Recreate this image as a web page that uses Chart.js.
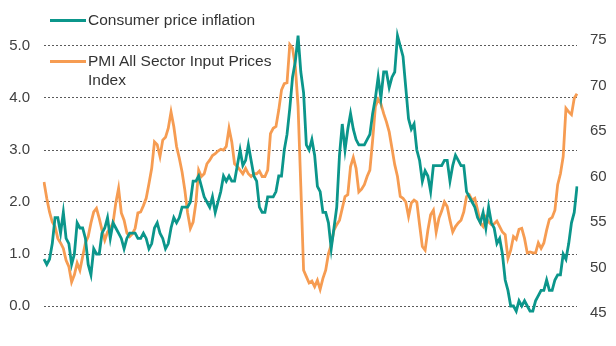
<!DOCTYPE html>
<html><head><meta charset="utf-8">
<script src="https://cdn.jsdelivr.net/npm/chart.js@4.4.1/dist/chart.umd.min.js"></script>
<style>
html,body{margin:0;padding:0;background:#fff;overflow:hidden;width:616px;height:346px;position:relative;}
#wrap{position:absolute;left:0;top:-24px;width:616px;height:374px;}
.legtxt{position:absolute;font-family:"Liberation Sans",Arial,sans-serif;font-size:15.5px;line-height:18.5px;color:#333;white-space:normal;}
.sw{position:absolute;height:3px;width:36px;}
</style></head><body>
<div id="wrap"><canvas id="c" width="616" height="374"></canvas></div>
<div id="legend"></div>
<script>
// ---- Data (monthly, Jan 2001 - Feb 2017) ----
const startYear = 2001;
const monthNames = ['Jan','Feb','Mar','Apr','May','Jun','Jul','Aug','Sep','Oct','Nov','Dec'];
const seriesLabels = ['Consumer price inflation', 'PMI All Sector Input Prices Index'];

const cpi = [
  0.9,0.8,0.9,1.2,1.7,1.7,1.4,1.8,1.3,1.2,0.8,1.0,
  1.6,1.5,1.5,1.3,0.8,0.6,1.1,1.0,1.0,1.4,1.5,1.7,
  1.3,1.6,1.5,1.4,1.3,1.1,1.3,1.4,1.4,1.4,1.3,1.3,
  1.4,1.3,1.1,1.2,1.5,1.6,1.4,1.3,1.1,1.2,1.5,1.7,
  1.6,1.7,1.9,1.9,1.9,2.0,2.4,2.4,2.5,2.3,2.1,2.0,
  1.9,2.1,1.8,2.0,2.2,2.5,2.4,2.5,2.4,2.4,2.7,3.0,
  2.7,2.8,3.1,2.8,2.5,2.4,1.9,1.8,1.8,2.1,2.1,2.1,
  2.2,2.5,2.5,3.0,3.3,3.8,4.4,4.7,5.2,4.5,4.1,3.1,
  3.0,3.2,2.9,2.3,2.2,1.8,1.8,1.6,1.1,1.5,1.9,2.9,
  3.5,3.0,3.4,3.7,3.4,3.2,3.1,3.1,3.1,3.2,3.3,3.7,
  4.0,4.4,4.0,4.5,4.5,4.2,4.4,4.5,5.2,5.0,4.8,4.2,
  3.6,3.4,3.5,3.0,2.8,2.4,2.6,2.5,2.2,2.7,2.7,2.7,
  2.7,2.8,2.8,2.4,2.7,2.9,2.8,2.7,2.7,2.2,2.1,2.0,
  1.9,1.7,1.6,1.8,1.5,1.9,1.6,1.5,1.2,1.3,1.0,0.5,
  0.3,0.0,0.0,-0.1,0.1,0.0,0.1,0.0,-0.1,-0.1,0.1,0.2,
  0.3,0.3,0.5,0.3,0.3,0.5,0.6,0.6,1.0,0.9,1.2,1.6,
  1.8,2.3
];

const pmiInput = [
  59.4,57.6,56.1,55.0,54.5,53.2,52.7,52.1,50.8,50.1,48.4,49.2,
  50.5,49.7,51.2,52.7,53.4,54.9,56.1,56.5,55.4,54.1,53.0,53.9,
  54.3,54.9,57.1,58.7,56.0,55.2,53.8,53.4,53.7,54.3,56.0,56.1,
  56.8,57.6,59.2,60.9,63.8,63.5,62.2,64.0,64.3,65.3,67.1,65.5,
  63.3,62.0,60.5,58.5,56.0,54.3,55.0,57.1,60.7,60.0,60.3,61.4,
  61.8,62.3,62.5,62.8,63.0,62.9,63.3,65.3,63.8,61.4,61.1,60.7,
  60.3,60.9,60.3,60.0,60.3,60.3,60.6,60.0,60.0,60.7,64.7,65.3,
  65.5,67.3,69.5,70.2,70.3,74.5,74.1,72.1,67.7,58.9,49.7,49.0,
  48.3,48.5,47.9,48.6,47.6,48.8,49.7,51.5,52.5,54.1,54.7,55.2,
  56.5,57.8,58.0,61.1,62.1,60.9,58.3,58.6,59.1,60.0,60.7,64.0,
  67.7,68.5,68.0,66.9,66.0,64.9,63.1,61.3,60.0,57.8,57.6,57.2,
  55.6,57.1,57.4,57.2,54.7,52.3,51.9,54.1,55.8,56.3,53.9,55.4,
  56.2,57.2,56.7,55.2,53.9,54.5,54.9,55.2,56.1,57.8,58.0,57.4,
  57.6,56.3,54.9,54.5,55.5,55.0,54.7,54.8,55.1,54.5,53.9,53.6,
  51.0,51.9,53.4,53.1,54.2,54.3,53.2,51.6,51.7,51.6,51.6,52.7,
  52.1,52.7,54.1,55.3,55.5,56.3,59.1,60.3,62.2,67.5,67.1,66.8,
  68.6,69.1
];

const leftTicks = [0, 1, 2, 3, 4, 5, 6];
const rightTicks = [45, 50, 55, 60, 65, 70, 75, 80];

const months = cpi.map((_, i) => monthNames[i % 12] + ' ' + (startYear + Math.floor(i / 12)));

// ---- Layout (page pixels) ----
const OFFSET = 24;          // canvas is shifted up by this much
const areaTop = -12, areaBottom = 316;
const leftZeroY = 306, leftPxPerUnit = 52;
const right45Y = 313, rightPxPerUnit = 9.1;
const leftMin = (leftZeroY - areaBottom) / leftPxPerUnit;
const leftMax = (leftZeroY - areaTop) / leftPxPerUnit;
const rightMin = 45 + (right45Y - areaBottom) / rightPxPerUnit;
const rightMax = 45 + (right45Y - areaTop) / rightPxPerUnit;

const TEAL = '#0b968b';
const ORANGE = '#f69c52';
const tickFont = {family: '"Liberation Sans", Arial, sans-serif', size: 15};

function fixWidth(w) {
  return s => { s.width = w; s.paddingTop = 0; s.paddingBottom = 0; s.paddingLeft = 0; s.paddingRight = 0; };
}

new Chart(document.getElementById('c'), {
  type: 'line',
  data: {
    labels: months,
    datasets: [
      {label: seriesLabels[0], data: cpi, yAxisID: 'yL', borderColor: TEAL, borderWidth: 2.8, pointRadius: 0, tension: 0, fill: false},
      {label: seriesLabels[1], data: pmiInput, yAxisID: 'yR', borderColor: ORANGE, borderWidth: 2.8, pointRadius: 0, tension: 0, fill: false}
    ]
  },
  options: {
    responsive: false,
    animation: false,
    devicePixelRatio: 1,
    layout: {padding: {top: areaTop + OFFSET, bottom: 374 - (areaBottom + OFFSET), left: 0, right: 0}},
    plugins: {legend: {display: false}, tooltip: {enabled: false}},
    scales: {
      x: {type: 'category', display: false, offset: false},
      yL: {
        position: 'left', min: leftMin, max: leftMax,
        afterFit: fixWidth(44),
        afterBuildTicks: s => { s.ticks = leftTicks.map(v => ({value: v})); },
        ticks: {autoSkip: false, padding: 14, color: '#404040', font: tickFont, callback: v => Number(v).toFixed(1)},
        grid: {drawTicks: false, color: '#5a5a5a', lineWidth: 1, borderDash: [2, 2]},
        border: {display: false, dash: [2, 2]}
      },
      yR: {
        position: 'right', min: rightMin, max: rightMax,
        afterFit: fixWidth(39),
        afterBuildTicks: s => { s.ticks = rightTicks.map(v => ({value: v})); },
        ticks: {autoSkip: false, padding: 13, color: '#404040', font: tickFont, callback: v => String(v)},
        grid: {display: false, drawTicks: false},
        border: {display: false}
      }
    }
  }
});

// ---- Legend (HTML text) ----
const legend = document.getElementById('legend');
const legItems = [
  {color: TEAL, swTop: 19, txtTop: 11, width: 230},
  {color: ORANGE, swTop: 60, txtTop: 52, width: 205}
];
legItems.forEach((it, i) => {
  const sw = document.createElement('div');
  sw.className = 'sw';
  sw.style.left = '50px'; sw.style.top = it.swTop + 'px'; sw.style.background = it.color;
  legend.appendChild(sw);
  const t = document.createElement('div');
  t.className = 'legtxt';
  t.style.left = '88px'; t.style.top = it.txtTop + 'px'; t.style.width = it.width + 'px';
  t.textContent = seriesLabels[i];
  legend.appendChild(t);
});
</script>
</body></html>
